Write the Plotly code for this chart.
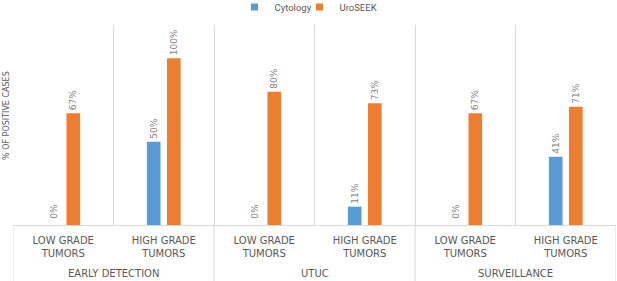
import plotly.graph_objects as go

groups = ["EARLY DETECTION", "UTUC", "SURVEILLANCE"]
subcats = ["LOW GRADE<br>TUMORS", "HIGH GRADE<br>TUMORS"] * 3
cytology = [0, 50, 0, 11, 0, 41]
uroseek = [67, 100, 80, 73, 67, 71]
series_names = ["Cytology", "UroSEEK"]

BLUE = "#5B9BD5"
ORANGE = "#ED7D31"
GRID = "#D9D9D9"
TXT = "#595959"
LBL = "#7F7F7F"
FONT = "DejaVu Sans"
BARGAP = 0.6

W, H = 617, 281
ML, MR, MT, MB = 13, 1, 25, 56
PH = H - MT - MB

xpos = list(range(len(subcats)))
bounds = [i - 0.5 for i in range(len(subcats) + 1)]

fig = go.Figure()
for name, vals, col in [(series_names[0], cytology, BLUE), (series_names[1], uroseek, ORANGE)]:
    fig.add_trace(go.Bar(
        name=name, x=xpos, y=vals, marker=dict(color=col, line=dict(width=0)),
        text=[f"{v}%" if v > 0 else "" for v in vals],
        textposition="outside", textangle=-90, constraintext="none",
        textfont=dict(size=9, color=LBL, family=FONT), cliponaxis=False, showlegend=False,
    ))

# zero-value labels (plotly does not rotate text on zero-height bars)
slot = (1 - BARGAP) / 2
for k, vals in enumerate([cytology, uroseek]):
    for i, v in enumerate(vals):
        if v == 0:
            fig.add_annotation(text=f"{v}%", textangle=-90, xref="x", yref="y",
                               x=xpos[i] - (1 - BARGAP) / 2 + slot * (k + 0.5), y=v,
                               xanchor="center", yanchor="bottom", yshift=4, showarrow=False,
                               font=dict(size=9, color=LBL, family=FONT))

# group labels and group dividers below the axis
for g, name in enumerate(groups):
    fig.add_annotation(text=name, xref="x", yref="paper", x=xpos[2 * g] + 0.5,
                       y=-(273 - (MT + PH)) / PH, xanchor="center", yanchor="middle",
                       showarrow=False, font=dict(size=10, color=TXT, family=FONT))
for b in bounds[::2]:
    fig.add_shape(type="line", xref="x", yref="paper", x0=b, x1=b, y0=0, y1=-MB / PH,
                  line=dict(color=GRID, width=1), layer="below")

# legend entries with small square swatches
for name, col in [(series_names[0], BLUE), (series_names[1], ORANGE)]:
    fig.add_trace(go.Scatter(
        name=name, x=[None], y=[None], mode="markers",
        marker=dict(symbol="square", size=7, color=col), showlegend=True,
    ))
# blank spacer entry so the last legend label is not clipped by the compact entry width
fig.add_trace(go.Scatter(
    name=" ", x=[None], y=[None], mode="markers", hoverinfo="skip",
    marker=dict(symbol="square", size=7, color="rgba(0,0,0,0)"), showlegend=True,
))

fig.update_layout(
    width=W, height=H,
    margin=dict(l=ML, r=MR, t=MT, b=MB, autoexpand=False),
    paper_bgcolor="white", plot_bgcolor="white",
    barmode="group", bargap=BARGAP, bargroupgap=0.32,
    font=dict(family=FONT, color=TXT),
    showlegend=True,
    legend=dict(orientation="h", x=332 / W, xanchor="center", y=1 + (MT - 7) / PH,
                yanchor="middle", xref="container", yref="paper",
                font=dict(size=9.5, color=TXT, family="Roboto"), itemwidth=30,
                entrywidth=20, traceorder="normal", tracegroupgap=0, bgcolor="rgba(0,0,0,0)"),
    xaxis=dict(range=[bounds[0], bounds[-1]], tickvals=xpos, ticktext=subcats,
               showgrid=False, ticks="", showline=True, linecolor=GRID, zeroline=False,
               ticklabelstandoff=6,
               minor=dict(tickvals=bounds, showgrid=True, gridcolor=GRID, gridwidth=1, ticks=""),
               tickfont=dict(size=10, color=TXT, family=FONT), automargin=False),
    yaxis=dict(range=[0, 120], showgrid=False, showticklabels=False, zeroline=False,
               ticks="", showline=False, automargin=False),
)
fig.add_annotation(text="% OF POSITIVE CASES", textangle=-90, xref="paper", yref="paper",
                   x=-7 / (W - ML - MR), y=1 - (116 - MT) / PH, xanchor="center", yanchor="middle",
                   showarrow=False, font=dict(size=8, color=TXT, family=FONT))
fig.write_html("out.html", config={"displayModeBar": False},
               post_script="document.body.style.margin='0';document.body.style.overflow='hidden';")
